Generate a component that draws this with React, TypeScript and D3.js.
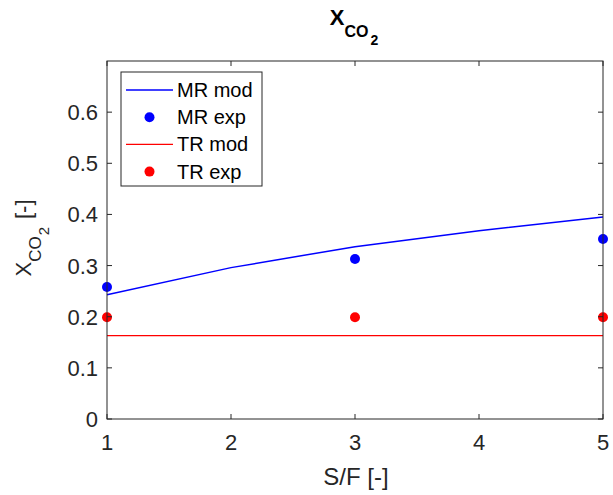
import React from "react";
import * as d3 from "d3";

const sfValues = [1, 2, 3, 4, 5];
const mrMod = [0.243, 0.296, 0.337, 0.368, 0.395];
const expSF = [1, 3, 5];
const mrExp = [0.258, 0.313, 0.352];
const trExp = [0.199, 0.199, 0.199];
const trModSF = [1, 5];
const trMod = [0.163, 0.163];
const xTicks = [1, 2, 3, 4, 5];
const yTicks = [0, 0.1, 0.2, 0.3, 0.4, 0.5, 0.6];
const legendLabels = ["MR mod", "MR exp", "TR mod", "TR exp"];

const W = 613;
const H = 495;
const left = 107;
const right = 603;
const top = 61;
const bottom = 419;
const FONT = "'Liberation Sans', Arial, Helvetica, sans-serif";
const AX = "#262626";

export default function App() {
  const x = d3.scaleLinear().domain([1, 5]).range([left, right]);
  const y = d3.scaleLinear().domain([0, 0.7]).range([bottom, top]);
  const line = d3
    .line<[number, number]>()
    .x((d) => x(d[0]))
    .y((d) => y(d[1]));
  const mrPath = line(sfValues.map((s, i) => [s, mrMod[i]] as [number, number])) || "";
  const trPath = line(trModSF.map((s, i) => [s, trMod[i]] as [number, number])) || "";
  const tl = 5;

  const legX = 121;
  const legY = 72;
  const legW = 141;
  const legH = 114;
  const rowY = (i: number) => legY + 18 + i * 27.2;
  const legColors = ["#0000ff", "#0000ff", "#ff0000", "#ff0000"];
  const legIsLine = [true, false, true, false];

  return (
    <svg
      width={W}
      height={H}
      style={{ position: "absolute", left: 0, top: 0, background: "#fff" }}
      fontFamily={FONT}
    >
      <rect x={0} y={0} width={W} height={H} fill="#fff" />
      {/* title */}
      <text x={354} y={25} textAnchor="middle" fontWeight="bold" fill="#000">
        <tspan fontSize={22}>X</tspan>
        <tspan fontSize={16} dy={12}>CO</tspan>
        <tspan fontSize={14} dy={8} dx={2}>2</tspan>
      </text>

      {/* data */}
      <path d={trPath} fill="none" stroke="#ff0000" strokeWidth={1.3} />
      <path d={mrPath} fill="none" stroke="#0000ff" strokeWidth={1.5} />
      {expSF.map((s, i) => (
        <circle key={"mr" + i} cx={x(s)} cy={y(mrExp[i])} r={5} fill="#0000ff" />
      ))}
      {expSF.map((s, i) => (
        <circle key={"tr" + i} cx={x(s)} cy={y(trExp[i])} r={5} fill="#ff0000" />
      ))}

      {/* axes box */}
      <rect
        x={left}
        y={top}
        width={right - left}
        height={bottom - top}
        fill="none"
        stroke={AX}
        strokeWidth={1}
      />
      {xTicks.map((t) => (
        <g key={"xt" + t}>
          <line x1={x(t)} x2={x(t)} y1={bottom} y2={bottom - tl} stroke={AX} />
          <line x1={x(t)} x2={x(t)} y1={top} y2={top + tl} stroke={AX} />
          <text x={x(t)} y={450} textAnchor="middle" fontSize={22} fill={AX}>
            {t}
          </text>
        </g>
      ))}
      {yTicks.map((t) => (
        <g key={"yt" + t}>
          <line x1={left} x2={left + tl} y1={y(t)} y2={y(t)} stroke={AX} />
          <line x1={right} x2={right - tl} y1={y(t)} y2={y(t)} stroke={AX} />
          <text
            x={98}
            y={y(t) + 8}
            textAnchor="end"
            fontSize={22}
            fill={AX}
          >
            {t === 0 ? "0" : t.toFixed(1)}
          </text>
        </g>
      ))}

      {/* axis labels */}
      <text x={356} y={485} textAnchor="middle" fontSize={24} fill={AX}>
        S/F [-]
      </text>
      <text
        transform={`translate(31,${238}) rotate(-90)`}
        textAnchor="middle"
        fill={AX}
      >
        <tspan fontSize={22}>X</tspan>
        <tspan fontSize={17} dy={10}>CO</tspan>
        <tspan fontSize={15} dy={8} dx={1}>2</tspan>
        <tspan fontSize={22} dy={-18} dx={8}>[-]</tspan>
      </text>

      {/* legend */}
      <rect x={legX} y={legY} width={legW} height={legH} fill="#fff" stroke={AX} strokeWidth={1} />
      {legendLabels.map((lab, i) => (
        <g key={lab}>
          {legIsLine[i] ? (
            <line
              x1={126}
              x2={173}
              y1={rowY(i)}
              y2={rowY(i)}
              stroke={legColors[i]}
              strokeWidth={1.3}
            />
          ) : (
            <circle cx={149.5} cy={rowY(i)} r={5} fill={legColors[i]} />
          )}
          <text x={177} y={rowY(i) + 7} fontSize={20} fill="#000">
            {lab}
          </text>
        </g>
      ))}
    </svg>
  );
}
